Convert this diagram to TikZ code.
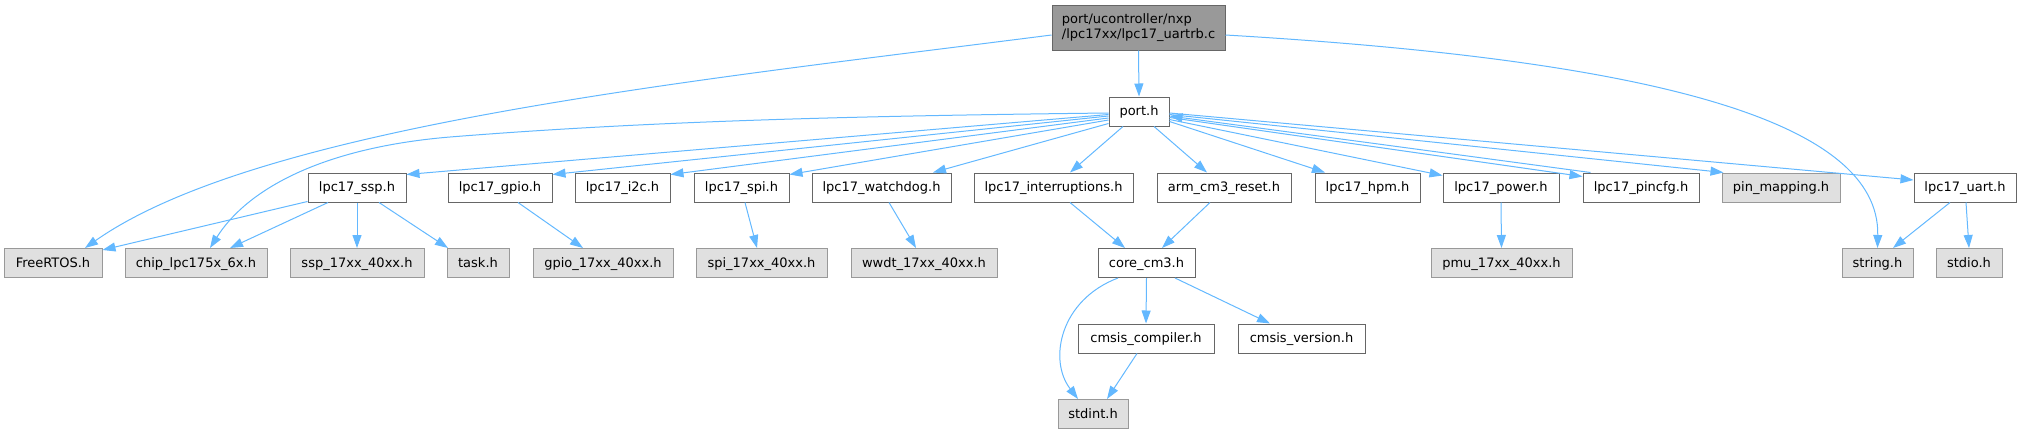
\documentclass[tikz,border=0pt]{standalone}
\usepackage{fontspec}
\setmainfont{DejaVu Sans}
\usetikzlibrary{arrows.meta,calc}
\definecolor{edgec}{HTML}{63B8FF}
\definecolor{bordc}{HTML}{666666}
\definecolor{gbord}{HTML}{999999}
\definecolor{gfill}{HTML}{E0E0E0}
\definecolor{mfill}{HTML}{999999}
\begin{document}
\begin{tikzpicture}[x=1pt,y=-1pt,
  box/.style={draw=bordc, fill=white, line width=1pt, minimum height=29pt, inner sep=0pt,
    font=\fontsize{13}{15.5}\selectfont, text=black, text height=10pt, text depth=1.4pt},
  gbox/.style={box, draw=gbord, fill=gfill},
  mbox/.style={draw=bordc, fill=mfill, line width=1pt, minimum height=45pt, minimum width=173pt,
    inner sep=0pt, align=left, font=\fontsize{13}{15.5}\selectfont, text=black},
  edge/.style={draw=edgec, line width=1pt, -{Triangle[length=13pt,width=9pt]}},
]
\useasboundingbox (0,0) rectangle (2022,434);

% row 0/1
\node[mbox] (top) at (1138.5,27.5) {port/ucontroller/nxp\\/lpc17xx/lpc17\_uartrb.c};
\node[box, minimum width=60pt] (port) at (1139,111.5) {port.h};

% row 2
\node[box, minimum width=98pt]  (ssp)    at (357,187.5)   {lpc17\_ssp.h};
\node[box, minimum width=104pt] (gpio)   at (500,187.5)   {lpc17\_gpio.h};
\node[box, minimum width=95pt]  (i2c)    at (622.5,187.5) {lpc17\_i2c.h};
\node[box, minimum width=95pt]  (spi)    at (741.5,187.5) {lpc17\_spi.h};
\node[box, minimum width=139pt] (wdog)   at (881.5,187.5) {lpc17\_watchdog.h};
\node[box, minimum width=159pt] (interr) at (1053.5,187.5){lpc17\_interruptions.h};
\node[box, minimum width=134pt] (arm)    at (1224,187.5)  {arm\_cm3\_reset.h};
\node[box, minimum width=105pt] (hpm)    at (1367.5,187.5){lpc17\_hpm.h};
\node[box, minimum width=116pt] (power)  at (1501,187.5)  {lpc17\_power.h};
\node[box, minimum width=116pt] (pincfg) at (1641,187.5)  {lpc17\_pincfg.h};
\node[gbox, minimum width=118pt] (pinmap) at (1781,187.5) {pin\_mapping.h};
\node[box, minimum width=102pt] (uart)   at (1965,187.5)  {lpc17\_uart.h};

% row 3
\node[gbox, minimum width=98pt]  (freertos) at (53,263)    {FreeRTOS.h};
\node[gbox, minimum width=142pt] (chip)     at (196,263)   {chip\_lpc175x\_6x.h};
\node[gbox, minimum width=134pt] (ssp17)    at (357,263)   {ssp\_17xx\_40xx.h};
\node[gbox, minimum width=62pt]  (task)     at (478,263)   {task.h};
\node[gbox, minimum width=140pt] (gpio17)   at (603,263)   {gpio\_17xx\_40xx.h};
\node[gbox, minimum width=131pt] (spi17)    at (761.5,263) {spi\_17xx\_40xx.h};
\node[gbox, minimum width=146pt] (wwdt)     at (924,263)   {wwdt\_17xx\_40xx.h};
\node[box,  minimum width=97pt]  (core)     at (1146.5,263){core\_cm3.h};
\node[gbox, minimum width=141pt] (pmu)      at (1501.5,263){pmu\_17xx\_40xx.h};
\node[gbox, minimum width=71pt]  (string)   at (1877.5,263){string.h};
\node[gbox, minimum width=66pt]  (stdio)    at (1969,263)  {stdio.h};

% row 4/5
\node[box, minimum width=136pt] (cmsisc) at (1146,338.5)  {cmsis\_compiler.h};
\node[box, minimum width=127pt] (cmsisv) at (1301.5,338.5){cmsis\_version.h};
\node[gbox, minimum width=70pt] (stdint) at (1093,414)    {stdint.h};

% edges from top node
\draw[edge] (top.south) -- (port.north);
\draw[edge] ($(top.west)+(0,7.5)$) .. controls (700,80) and (260,125) .. ($(freertos.north)+(32,0)$);
\draw[edge] ($(top.east)+(0,7.5)$) .. controls (1650,60) and (1880,120) .. (string.north);

% edges from port.h (left)
\draw[edge] ($(port.west)+(0,1.5)$) .. controls (850,116) and (650,121) .. (450,137)
   .. controls (330,147) and (250,185) .. ($(chip.north)+(14,0)$);
\draw[edge] ($(port.west)+(0,3)$) -- ($(ssp.north east)+(0,2)$);
\draw[edge] ($(port.west)+(0,4.5)$) -- ($(gpio.north east)+(0,2)$);
\draw[edge] ($(port.west)+(0,6.5)$) -- ($(i2c.north east)+(0,2)$);
\draw[edge] ($(port.west)+(0,8.5)$) -- ($(spi.north east)+(0,2)$);
\draw[edge] ($(port.west)+(0,12)$) -- ($(wdog.north)+(51.5,0)$);
\draw[edge] ($(port.south)+(-16,0)$) -- ($(interr.north)+(16.5,0)$);
\draw[edge] ($(port.south)+(15,0)$) -- ($(arm.north)+(-17,0)$);
% edges from port.h (right)
\draw[edge] ($(port.east)+(0,10)$) -- ($(hpm.north)+(-42.5,0)$);
\draw[edge] ($(port.east)+(0,8)$) -- ($(power.north west)+(0,3)$);
\draw[edge] ($(port.east)+(0,6)$) -- ($(pincfg.north west)+(0,4)$);
\draw[edge] ($(pincfg.north west)+(8,0)$) -- ($(port.east)+(0,4.5)$);
\draw[edge] ($(port.east)+(0,3)$) -- ($(pinmap.north west)+(2,0)$);
\draw[edge] ($(port.east)+(0,1.5)$) -- ($(uart.west)+(0,-7.5)$);

% lower edges
\draw[edge] ($(ssp.south west)+(0,-1)$) -- ($(freertos.east)+(0,-13)$);
\draw[edge] ($(ssp.south)+(-29,0)$) -- ($(chip.north)+(34,0)$);
\draw[edge] (ssp.south) -- (ssp17.north);
\draw[edge] ($(ssp.south)+(22,0)$) -- ($(task.north)+(-30,0)$);
\draw[edge] ($(gpio.south)+(18,0)$) -- ($(gpio17.north)+(-20,0)$);
\draw[edge] ($(spi.south)+(3.5,0)$) -- ($(spi17.north)+(-4.5,0)$);
\draw[edge] ($(wdog.south)+(7.5,0)$) -- ($(wwdt.north)+(-8,0)$);
\draw[edge] ($(interr.south)+(16.5,0)$) -- ($(core.north)+(-21.5,0)$);
\draw[edge] ($(arm.south)+(-14,0)$) -- ($(core.north)+(15.5,0)$);
\draw[edge] (power.south) -- (pmu.north);
\draw[edge] ($(uart.south)+(-15,0)$) -- ($(string.north)+(15.5,0)$);
\draw[edge] ($(uart.south)+(1,0)$) -- (stdio.north);
\draw[edge] ($(core.south)+(-28.5,0)$) .. controls (1060,300) and (1048,360) .. ($(stdint.north)+(-15,0)$);
\draw[edge] (core.south) -- (cmsisc.north);
\draw[edge] ($(core.south)+(28.5,0)$) -- ($(cmsisv.north)+(-31.5,0)$);
\draw[edge] ($(cmsisc.south)+(-9,0)$) -- ($(stdint.north)+(14,0)$);
\end{tikzpicture}
\end{document}
